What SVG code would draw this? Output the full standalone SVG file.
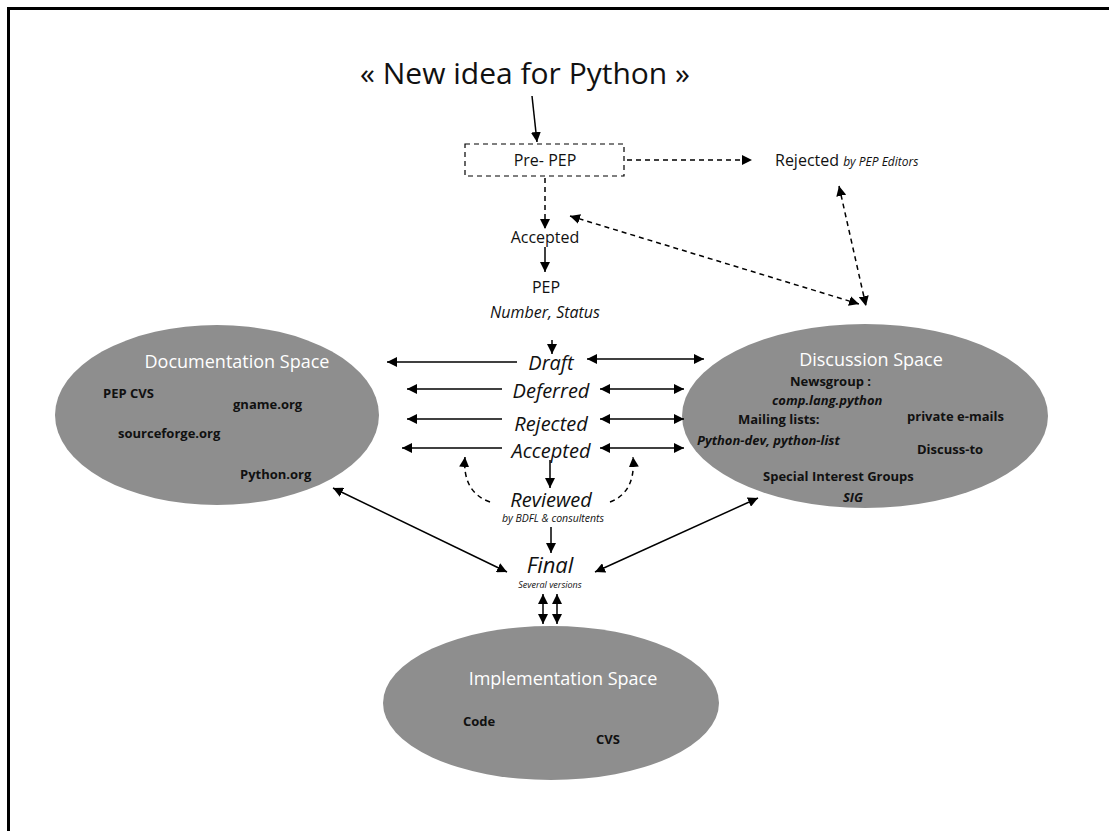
<svg xmlns="http://www.w3.org/2000/svg" width="1109" height="831" viewBox="0 0 1109 831">
<style>
text{font-family:"Open Sans","DejaVu Sans",sans-serif;fill:#111}
.t{font-size:16px}
.it{font-style:italic}
.b{font-weight:bold;font-size:13px}
.w{fill:#fff;font-size:18px}
.st{font-style:italic;font-size:20px}
.ln{stroke:#000;stroke-width:1.5;fill:none}
.d{stroke-dasharray:5 4}
.sp{fill:#8e8e8e}
</style>
<defs>
<marker id="ah" viewBox="0 0 10 10" refX="10" refY="5" markerWidth="10" markerHeight="10" markerUnits="userSpaceOnUse" orient="auto-start-reverse"><path d="M0,0 L10,5 L0,10 z" fill="#000"/></marker>
</defs>
<rect x="8.5" y="8.5" width="1120" height="840" fill="none" stroke="#000" stroke-width="3"/>

<g id="title"><text x="525" y="84" text-anchor="middle" font-size="30">« New idea for Python »</text></g>
<g id="prepep"><rect x="465" y="144" width="159" height="32" fill="none" stroke="#000" stroke-width="1.2" stroke-dasharray="5 4"/><text class="t" x="545" y="166" text-anchor="middle">Pre- PEP</text></g>
<g id="rejected-editors"><text class="t" x="775" y="166">Rejected <tspan class="it" font-size="12">by PEP Editors</tspan></text></g>
<g id="accepted-top"><text class="t" x="545" y="243" text-anchor="middle">Accepted</text></g>
<g id="pep"><text class="t" x="546" y="293" text-anchor="middle">PEP</text><text class="t it" x="545" y="318" text-anchor="middle">Number, Status</text></g>

<g id="documentation">
<ellipse class="sp" cx="217" cy="415" rx="162" ry="90"/>
<text class="w" x="237" y="368" text-anchor="middle">Documentation  Space</text>
<text class="b" x="103" y="398">PEP CVS</text>
<text class="b" x="233" y="409">gname.org</text>
<text class="b" x="118" y="438">sourceforge.org</text>
<text class="b" x="240" y="479">Python.org</text>
</g>

<g id="discussion">
<ellipse class="sp" cx="865" cy="416" rx="183" ry="92"/>
<text class="w" x="871" y="366" text-anchor="middle">Discussion Space</text>
<text class="b" x="790" y="386">Newsgroup :</text>
<text class="b it" x="772" y="405">comp.lang.python</text>
<text class="b" x="738" y="424">Mailing lists:</text>
<text class="b it" x="697" y="445">Python-dev, python-list</text>
<text class="b" x="907" y="421">private e-mails</text>
<text class="b" x="917" y="454">Discuss-to</text>
<text class="b" x="763" y="481">Special Interest Groups</text>
<text class="b it" x="853" y="502" text-anchor="middle">SIG</text>
</g>

<g id="implementation">
<ellipse class="sp" cx="551" cy="703" rx="168" ry="77"/>
<text class="w" x="563" y="685" text-anchor="middle">Implementation Space</text>
<text class="b" x="463" y="726">Code</text>
<text class="b" x="596" y="744">CVS</text>
</g>

<g id="states">
<text class="st" x="551" y="370" text-anchor="middle">Draft</text>
<text class="st" x="551" y="398" text-anchor="middle">Deferred</text>
<text class="st" x="551" y="431" text-anchor="middle">Rejected</text>
<text class="st" x="551" y="458" text-anchor="middle">Accepted</text>
<text class="st" x="551" y="507" text-anchor="middle">Reviewed</text>
<text class="it" x="553" y="522" text-anchor="middle" font-size="10.5">by BDFL &amp; consultents</text>
<text class="it" x="550" y="573" text-anchor="middle" font-size="22">Final</text>
<text class="it" x="550" y="588" text-anchor="middle" font-size="9">Several versions</text>
</g>

<g id="connectors">
<path class="ln" d="M532,96 L537,142" marker-end="url(#ah)"/>
<path class="ln d" d="M627,160 L752,160" marker-end="url(#ah)"/>
<path class="ln d" d="M545,178 L545,229" marker-end="url(#ah)"/>
<path class="ln" d="M545,247 L545,272" marker-end="url(#ah)"/>
<path class="ln d" d="M570,216 L859,304" marker-start="url(#ah)" marker-end="url(#ah)"/>
<path class="ln d" d="M839,186 L866,306" marker-start="url(#ah)" marker-end="url(#ah)"/>
<path class="ln" d="M552,340 L552,354" marker-end="url(#ah)"/>
<path class="ln" d="M517,362 L387,362" marker-end="url(#ah)"/>
<path class="ln" d="M587,359 L704,359" marker-start="url(#ah)" marker-end="url(#ah)"/>
<path class="ln" d="M502,389 L407,389" marker-end="url(#ah)"/>
<path class="ln" d="M600,389 L684,389" marker-start="url(#ah)" marker-end="url(#ah)"/>
<path class="ln" d="M502,419 L407,419" marker-end="url(#ah)"/>
<path class="ln" d="M600,419 L684,419" marker-start="url(#ah)" marker-end="url(#ah)"/>
<path class="ln" d="M502,448 L402,448" marker-end="url(#ah)"/>
<path class="ln" d="M600,448 L684,448" marker-start="url(#ah)" marker-end="url(#ah)"/>
<path class="ln" d="M550,460 L550,488" marker-end="url(#ah)"/>
<path class="ln d" d="M490,502 Q462,492 465,457" marker-end="url(#ah)"/>
<path class="ln d" d="M610,502 Q636,492 633,457" marker-end="url(#ah)"/>
<path class="ln" d="M551,527 L551,553" marker-end="url(#ah)"/>
<path class="ln" d="M333,488 L507,572" marker-start="url(#ah)" marker-end="url(#ah)"/>
<path class="ln" d="M758,498 L595,572" marker-start="url(#ah)" marker-end="url(#ah)"/>
<path class="ln" d="M543,594 L543,624" marker-start="url(#ah)" marker-end="url(#ah)"/>
<path class="ln" d="M557,594 L557,624" marker-start="url(#ah)" marker-end="url(#ah)"/>
</g>
</svg>
